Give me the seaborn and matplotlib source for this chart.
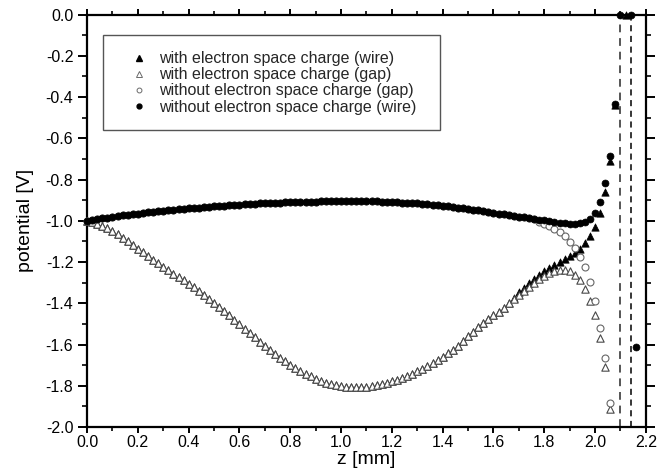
import matplotlib
matplotlib.use("Agg")
import numpy as np
import pandas as pd
import matplotlib.pyplot as plt
import seaborn as sns
from matplotlib.lines import Line2D
from matplotlib.ticker import MultipleLocator, FormatStrFormatter

# ---------------- data ----------------
z_wire = [0.00, 0.02, 0.04, 0.06, 0.08, 0.10, 0.12, 0.14, 0.16, 0.18,
          0.20, 0.22, 0.24, 0.26, 0.28, 0.30, 0.32, 0.34, 0.36, 0.38,
          0.40, 0.42, 0.44, 0.46, 0.48, 0.50, 0.52, 0.54, 0.56, 0.58,
          0.60, 0.62, 0.64, 0.66, 0.68, 0.70, 0.72, 0.74, 0.76, 0.78,
          0.80, 0.82, 0.84, 0.86, 0.88, 0.90, 0.92, 0.94, 0.96, 0.98,
          1.00, 1.02, 1.04, 1.06, 1.08, 1.10, 1.12, 1.14, 1.16, 1.18,
          1.20, 1.22, 1.24, 1.26, 1.28, 1.30, 1.32, 1.34, 1.36, 1.38,
          1.40, 1.42, 1.44, 1.46, 1.48, 1.50, 1.52, 1.54, 1.56, 1.58,
          1.60, 1.62, 1.64, 1.66, 1.68, 1.70, 1.72, 1.74, 1.76, 1.78,
          1.80, 1.82, 1.84, 1.86, 1.88, 1.90, 1.92, 1.94, 1.96, 1.98,
          2.00, 2.02, 2.04, 2.06, 2.08]
z_gap = [0.00, 0.02, 0.04, 0.06, 0.08, 0.10, 0.12, 0.14, 0.16, 0.18,
         0.20, 0.22, 0.24, 0.26, 0.28, 0.30, 0.32, 0.34, 0.36, 0.38,
         0.40, 0.42, 0.44, 0.46, 0.48, 0.50, 0.52, 0.54, 0.56, 0.58,
         0.60, 0.62, 0.64, 0.66, 0.68, 0.70, 0.72, 0.74, 0.76, 0.78,
         0.80, 0.82, 0.84, 0.86, 0.88, 0.90, 0.92, 0.94, 0.96, 0.98,
         1.00, 1.02, 1.04, 1.06, 1.08, 1.10, 1.12, 1.14, 1.16, 1.18,
         1.20, 1.22, 1.24, 1.26, 1.28, 1.30, 1.32, 1.34, 1.36, 1.38,
         1.40, 1.42, 1.44, 1.46, 1.48, 1.50, 1.52, 1.54, 1.56, 1.58,
         1.60, 1.62, 1.64, 1.66, 1.68, 1.70, 1.72, 1.74, 1.76, 1.78,
         1.80, 1.82, 1.84, 1.86, 1.88, 1.90, 1.92, 1.94, 1.96, 1.98,
         2.00, 2.02, 2.04, 2.06]

# without electron space charge (wire)  - filled circles
v_nosc_wire = [-1.000, -0.996, -0.992, -0.988, -0.985, -0.981, -0.978, -0.974, -0.971, -0.968,
               -0.965, -0.962, -0.959, -0.956, -0.954, -0.951, -0.949, -0.946, -0.944, -0.942,
               -0.940, -0.938, -0.936, -0.934, -0.932, -0.930, -0.928, -0.927, -0.925, -0.924,
               -0.922, -0.921, -0.919, -0.918, -0.916, -0.915, -0.914, -0.913, -0.912, -0.911,
               -0.910, -0.909, -0.909, -0.908, -0.907, -0.907, -0.906, -0.906, -0.905, -0.905,
               -0.905, -0.905, -0.905, -0.905, -0.905, -0.905, -0.906, -0.906, -0.907, -0.908,
               -0.909, -0.910, -0.912, -0.913, -0.915, -0.916, -0.918, -0.920, -0.922, -0.925,
               -0.927, -0.930, -0.933, -0.936, -0.940, -0.943, -0.947, -0.950, -0.954, -0.957,
               -0.961, -0.965, -0.969, -0.973, -0.976, -0.980, -0.984, -0.987, -0.991, -0.995,
               -0.998, -1.002, -1.006, -1.009, -1.012, -1.014, -1.016, -1.013, -1.005, -0.991,
               -0.963, -0.910, -0.818, -0.684, -0.435]
# without electron space charge (gap) - open circles
v_nosc_gap = [-1.000, -0.996, -0.992, -0.988, -0.985, -0.981, -0.978, -0.974, -0.971, -0.968,
              -0.965, -0.962, -0.959, -0.956, -0.954, -0.951, -0.949, -0.946, -0.944, -0.942,
              -0.940, -0.938, -0.936, -0.934, -0.932, -0.930, -0.928, -0.927, -0.925, -0.924,
              -0.922, -0.921, -0.919, -0.918, -0.916, -0.915, -0.914, -0.913, -0.912, -0.911,
              -0.910, -0.909, -0.909, -0.908, -0.907, -0.907, -0.906, -0.906, -0.905, -0.905,
              -0.905, -0.905, -0.905, -0.905, -0.905, -0.905, -0.906, -0.906, -0.907, -0.908,
              -0.909, -0.910, -0.912, -0.913, -0.915, -0.916, -0.918, -0.920, -0.922, -0.925,
              -0.927, -0.930, -0.933, -0.936, -0.940, -0.943, -0.947, -0.950, -0.954, -0.957,
              -0.961, -0.965, -0.969, -0.973, -0.976, -0.980, -0.984, -0.987, -0.993, -1.004,
              -1.014, -1.026, -1.040, -1.056, -1.076, -1.101, -1.133, -1.174, -1.226, -1.298,
              -1.387, -1.519, -1.667, -1.886]
# with electron space charge (gap) - open triangles
v_sc_gap = [-1.000, -1.006, -1.014, -1.024, -1.036, -1.050, -1.066, -1.083, -1.100, -1.117,
            -1.135, -1.153, -1.170, -1.188, -1.205, -1.222, -1.239, -1.256, -1.272, -1.289,
            -1.306, -1.323, -1.341, -1.359, -1.378, -1.397, -1.417, -1.437, -1.458, -1.479,
            -1.501, -1.523, -1.545, -1.566, -1.587, -1.607, -1.627, -1.646, -1.664, -1.681,
            -1.698, -1.713, -1.728, -1.742, -1.755, -1.767, -1.777, -1.786, -1.793, -1.798,
            -1.802, -1.805, -1.807, -1.808, -1.807, -1.805, -1.801, -1.796, -1.791, -1.785,
            -1.778, -1.770, -1.761, -1.751, -1.741, -1.730, -1.718, -1.705, -1.691, -1.676,
            -1.660, -1.643, -1.625, -1.605, -1.583, -1.560, -1.537, -1.515, -1.495, -1.476,
            -1.458, -1.440, -1.421, -1.401, -1.381, -1.361, -1.341, -1.321, -1.302, -1.283,
            -1.266, -1.253, -1.244, -1.239, -1.239, -1.245, -1.261, -1.287, -1.329, -1.388,
            -1.457, -1.570, -1.708, -1.914]
# with electron space charge (wire) - filled triangles
v_sc_wire = [-1.000, -1.006, -1.014, -1.024, -1.036, -1.050, -1.066, -1.083, -1.100, -1.117,
             -1.135, -1.153, -1.170, -1.188, -1.205, -1.222, -1.239, -1.256, -1.272, -1.289,
             -1.306, -1.323, -1.341, -1.359, -1.378, -1.397, -1.417, -1.437, -1.458, -1.479,
             -1.501, -1.523, -1.545, -1.566, -1.587, -1.607, -1.627, -1.646, -1.664, -1.681,
             -1.698, -1.713, -1.728, -1.742, -1.755, -1.767, -1.777, -1.786, -1.793, -1.798,
             -1.802, -1.805, -1.807, -1.808, -1.807, -1.805, -1.801, -1.796, -1.791, -1.785,
             -1.778, -1.770, -1.761, -1.751, -1.741, -1.730, -1.718, -1.705, -1.691, -1.676,
             -1.660, -1.643, -1.625, -1.605, -1.583, -1.560, -1.537, -1.515, -1.495, -1.476,
             -1.458, -1.440, -1.421, -1.398, -1.374, -1.347, -1.324, -1.302, -1.282, -1.263,
             -1.245, -1.229, -1.214, -1.200, -1.186, -1.172, -1.155, -1.136, -1.110, -1.076,
             -1.031, -0.963, -0.858, -0.712, -0.440]

# points inside the wire region
z_in_nosc = [2.10, 2.14, 2.16]
v_in_nosc = [0.0, 0.0, -1.611]
z_in_sc = [2.12]
v_in_sc = [0.0]

wire_edges = [2.10, 2.14]

labels = ["with electron space charge (wire)",
          "with electron space charge (gap)",
          "without electron space charge (gap)",
          "without electron space charge (wire)"]

# ---------------- plotting ----------------
sns.set_theme(style="ticks")
plt.rcParams["font.family"] = ["Liberation Sans", "DejaVu Sans"]
plt.rcParams["axes.unicode_minus"] = False

fig, ax = plt.subplots(figsize=(6.7, 4.7), dpi=100)
fig.subplots_adjust(left=0.130, right=0.964, top=0.969, bottom=0.0915)

df_sc_wire = pd.DataFrame({"z": z_wire + z_in_sc, "v": v_sc_wire + v_in_sc})
df_sc_gap = pd.DataFrame({"z": z_gap, "v": v_sc_gap})
df_nosc_gap = pd.DataFrame({"z": z_gap, "v": v_nosc_gap})
df_nosc_wire = pd.DataFrame({"z": z_wire + z_in_nosc, "v": v_nosc_wire + v_in_nosc})

sns.scatterplot(data=df_sc_wire, x="z", y="v", ax=ax, marker="^", s=28,
                color="black", edgecolor="black", linewidth=0.5, clip_on=False, zorder=3)
sns.scatterplot(data=df_sc_gap, x="z", y="v", ax=ax, marker="^", s=28,
                facecolor="white", edgecolor="#484848", linewidth=0.8, clip_on=False, zorder=4)
sns.scatterplot(data=df_nosc_gap, x="z", y="v", ax=ax, marker="o", s=25,
                facecolor="white", edgecolor="#666666", linewidth=0.8, clip_on=False, zorder=5)
sns.scatterplot(data=df_nosc_wire, x="z", y="v", ax=ax, marker="o", s=25,
                color="black", edgecolor="black", linewidth=0.5, clip_on=False, zorder=6)

ax.axvline(wire_edges[0], color="#555555", ls=(0, (4, 3)), lw=1.4, zorder=2)
ax.axvline(wire_edges[1], color="black", ls=(0, (4, 3)), lw=1.1, zorder=2)

ax.set_xlim(0, 2.2)
ax.set_ylim(-2.0, 0.0)
ax.xaxis.set_major_locator(MultipleLocator(0.2))
ax.xaxis.set_minor_locator(MultipleLocator(0.1))
ax.yaxis.set_major_locator(MultipleLocator(0.2))
ax.yaxis.set_minor_locator(MultipleLocator(0.1))
ax.xaxis.set_major_formatter(FormatStrFormatter("%.1f"))
ax.yaxis.set_major_formatter(FormatStrFormatter("%.1f"))

for sp in ax.spines.values():
    sp.set_visible(True)
    sp.set_linewidth(1.6)
    sp.set_color("black")
ax.tick_params(which="both", direction="out", top=True, right=True,
               labeltop=False, labelright=False, color="black")
ax.tick_params(which="major", length=6.3, width=1.4, labelsize=11.5, labelcolor="black")
ax.tick_params(which="minor", length=3.6, width=1.2)
ax.tick_params(axis="y", which="major", pad=3.6)
ax.tick_params(axis="x", which="major", length=4.5, pad=1.0)
ax.tick_params(axis="x", which="minor", length=3.0)

ax.set_xlabel("z [mm]", fontsize=14, labelpad=1, color="black")
ax.set_ylabel("potential [V]", fontsize=14, labelpad=8, color="black")

handles = [
    Line2D([], [], ls="none", marker="^", ms=4, mfc="black", mec="black"),
    Line2D([], [], ls="none", marker="^", ms=4, mfc="white", mec="#6a6a6a", mew=0.7),
    Line2D([], [], ls="none", marker="o", ms=3.5, mfc="white", mec="#6a6a6a", mew=0.7),
    Line2D([], [], ls="none", marker="o", ms=3.5, mfc="black", mec="black"),
]
leg = ax.legend(handles, labels, loc="upper left",
                bbox_to_anchor=(0.0286, 0.40, 0.603, 0.55), mode="expand",
                borderaxespad=0, frameon=True, fancybox=False, framealpha=1,
                edgecolor="#555555", fontsize=11.5, borderpad=1.0,
                handlelength=2.5, handletextpad=0.0, labelspacing=0.07)
leg.get_frame().set_linewidth(1.0)

fig.savefig("out.png", dpi=100)
